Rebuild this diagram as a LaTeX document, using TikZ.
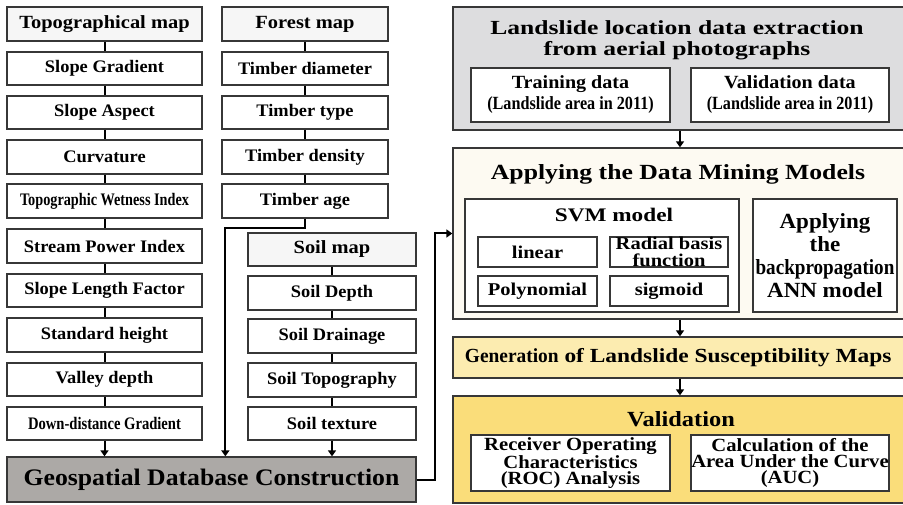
\documentclass[tikz,border=0pt]{standalone}
\usepackage{fontspec}
\setmainfont{Liberation Serif}
\usetikzlibrary{arrows.meta}

\definecolor{hdrfill}{RGB}{246,246,246}
\definecolor{dbfill}{RGB}{172,169,166}
\definecolor{extfill}{RGB}{221,221,223}
\definecolor{minefill}{RGB}{253,250,242}
\definecolor{genfill}{RGB}{252,236,176}
\definecolor{valfill}{RGB}{250,221,122}
\definecolor{edge}{RGB}{55,55,55}

% font helper: size, leading, horizontal stretch
\newcommand\ff[3]{\bfseries\fontsize{#1}{#2}\selectfont\addfontfeature{FakeStretch=#3}}
\newcommand\sx[1]{\addfontfeature{FakeStretch=#1}}

\tikzset{
  box/.style={draw=edge, line width=1.3pt, fill=white, inner sep=0pt, align=center},
  hdr/.style={box, fill=hdrfill, font=\ff{18.6}{20}{1.10}},
  body/.style={box, font=\ff{17.6}{19}{1.045}},
  txt/.style={inner sep=0pt, align=center},
  link/.style={line width=2pt, black},
  arr/.style={link, -{Triangle[length=6pt,width=8pt]}},
}

% \bx[style]{name}{x1}{y1}{x2}{y2}{text}
\newcommand\bx[7][]{\node[box,minimum width={(#5-#3)*1pt},minimum height={(#6-#4)*1pt},#1] (#2) at ({(#3+#5)/2},{(#4+#6)/2}) {#7};}

\begin{document}
\begin{tikzpicture}[x=1pt,y=-1pt]
\useasboundingbox (0,0) rectangle (903,505);

% ---------- topographical factors ----------
\bx[hdr]{topo}{7}{7}{202}{41}{Topographical map}
\bx[body]{t1}{7}{52}{202}{85}{Slope Gradient}
\bx[body]{t2}{7}{96}{202}{129}{Slope Aspect}
\bx[body]{t3}{7}{140}{202}{174}{Curvature}
\bx[body]{t4}{7}{184}{202}{218}{\sx{0.81}Topographic Wetness Index}
\bx[body]{t5}{7}{229}{202}{263}{Stream Power Index}
\bx[body]{t6}{7}{274}{202}{307}{Slope Length Factor}
\bx[body]{t7}{7}{318}{202}{352}{Standard height}
\bx[body]{t8}{7}{363}{202}{396}{Valley depth}
\bx[body]{t9}{7}{407}{202}{440}{\sx{0.83}Down-distance Gradient}

% ---------- forest factors ----------
\bx[hdr]{forest}{222}{7}{388}{41}{Forest map}
\bx[body]{f1}{222}{52}{388}{85}{Timber diameter}
\bx[body]{f2}{222}{96}{388}{129}{Timber type}
\bx[body]{f3}{222}{140}{388}{174}{Timber density}
\bx[body]{f4}{222}{184}{388}{218}{Timber age}

% ---------- soil factors ----------
\bx[hdr]{soil}{248}{233}{416}{266}{Soil map}
\bx[body]{s1}{248}{276}{416}{310}{Soil Depth}
\bx[body]{s2}{248}{319}{416}{353}{Soil Drainage}
\bx[body]{s3}{248}{363}{416}{397}{Soil Topography}
\bx[body]{s4}{248}{407}{416}{440}{Soil texture}

% ---------- database ----------
\bx[fill=dbfill,font=\ff{23.7}{26}{1.085}]{db}{7}{457}{416}{502}{Geospatial Database Construction}

% chain links inside each column
\foreach \a/\b in {topo/t1,t1/t2,t2/t3,t3/t4,t4/t5,t5/t6,t6/t7,t7/t8,t8/t9,
                   forest/f1,f1/f2,f2/f3,f3/f4,soil/s1,s1/s2,s2/s3,s3/s4}
  \draw[link] (\a.south) -- (\b.north);

\draw[arr] (t9.south) -- (t9.south |- db.north);
\draw[arr] (s4.south) -- (s4.south |- db.north);
\draw[arr] (f4.south) -- ++(0,9) -| ([xshift=219pt]db.north west);

% ---------- landslide inventory ----------
\bx[fill=extfill]{ext}{453}{7}{903.5}{130}{}
\node[txt,font=\ff{20}{20.7}{1.28}] (extT) at (677,40) {Landslide location data extraction\\from aerial photographs};
\bx[font=\ff{18.6}{21}{1.08}]{train}{471}{68}{670}{122}{Training data\\{\sx{0.87}(Landslide area in 2011)}}
\bx[font=\ff{18.6}{21}{1.08}]{valid}{691}{68}{889}{122}{Validation data\\{\sx{0.87}(Landslide area in 2011)}}

% ---------- data mining models ----------
\bx[fill=minefill]{mine}{453}{148}{903.5}{319}{}
\node[txt,font=\ff{21.6}{22}{1.19}] (mineT) at (678,174) {Applying the Data Mining Models};
\bx{svm}{465}{199}{739}{312}{}
\node[txt,font=\ff{19.2}{21}{1.21}] (svmT) at (614,215) {SVM model};
\bx[font=\ff{18}{16.7}{1.14}]{lin}{478}{237}{597}{267}{linear}
\bx[font=\ff{18}{16.7}{1.14}]{rbf}{610}{237}{728}{267}{Radial basis\\function}
\bx[font=\ff{18}{16.7}{1.14}]{poly}{478}{276}{597}{306}{Polynomial}
\bx[font=\ff{18}{16.7}{1.14}]{sig}{610}{276}{728}{306}{sigmoid}
\bx[font=\ff{21.6}{23}{1.065}]{ann}{753}{199}{897}{312}{Applying\\the\\{\sx{0.885}backpropagation}\\ANN model}

% ---------- susceptibility maps ----------
\bx[fill=genfill,font=\ff{20}{22}{1.17}]{gen}{453}{337}{903.5}{378}{{\sx{0.97}Generation} of Landslide Susceptibility Maps}

% ---------- validation ----------
\bx[fill=valfill]{val}{453}{396}{903.5}{503}{}
\node[txt,font=\ff{21.6}{25}{1.13}] (valT) at (681,419) {Validation};
\bx[font=\ff{18.6}{16.2}{1.11}]{roc}{471}{435}{670}{491}{Receiver Operating\\Characteristics\\(ROC) Analysis}
\bx[font=\ff{18.6}{16.2}{1.11}]{auc}{691}{435}{889}{491}{Calculation of the\\Area Under the Curve\\(AUC)}

% ---------- flow between stages ----------
\draw[arr] (db.east) -- ++(18,0) |- (mine.west);
\draw[arr] (ext.south -| 680,0) -- (mine.north -| 680,0);
\draw[arr] (mine.south -| 680,0) -- (gen.north -| 680,0);
\draw[arr] (gen.south -| 680,0) -- (val.north -| 680,0);
\end{tikzpicture}
\end{document}
